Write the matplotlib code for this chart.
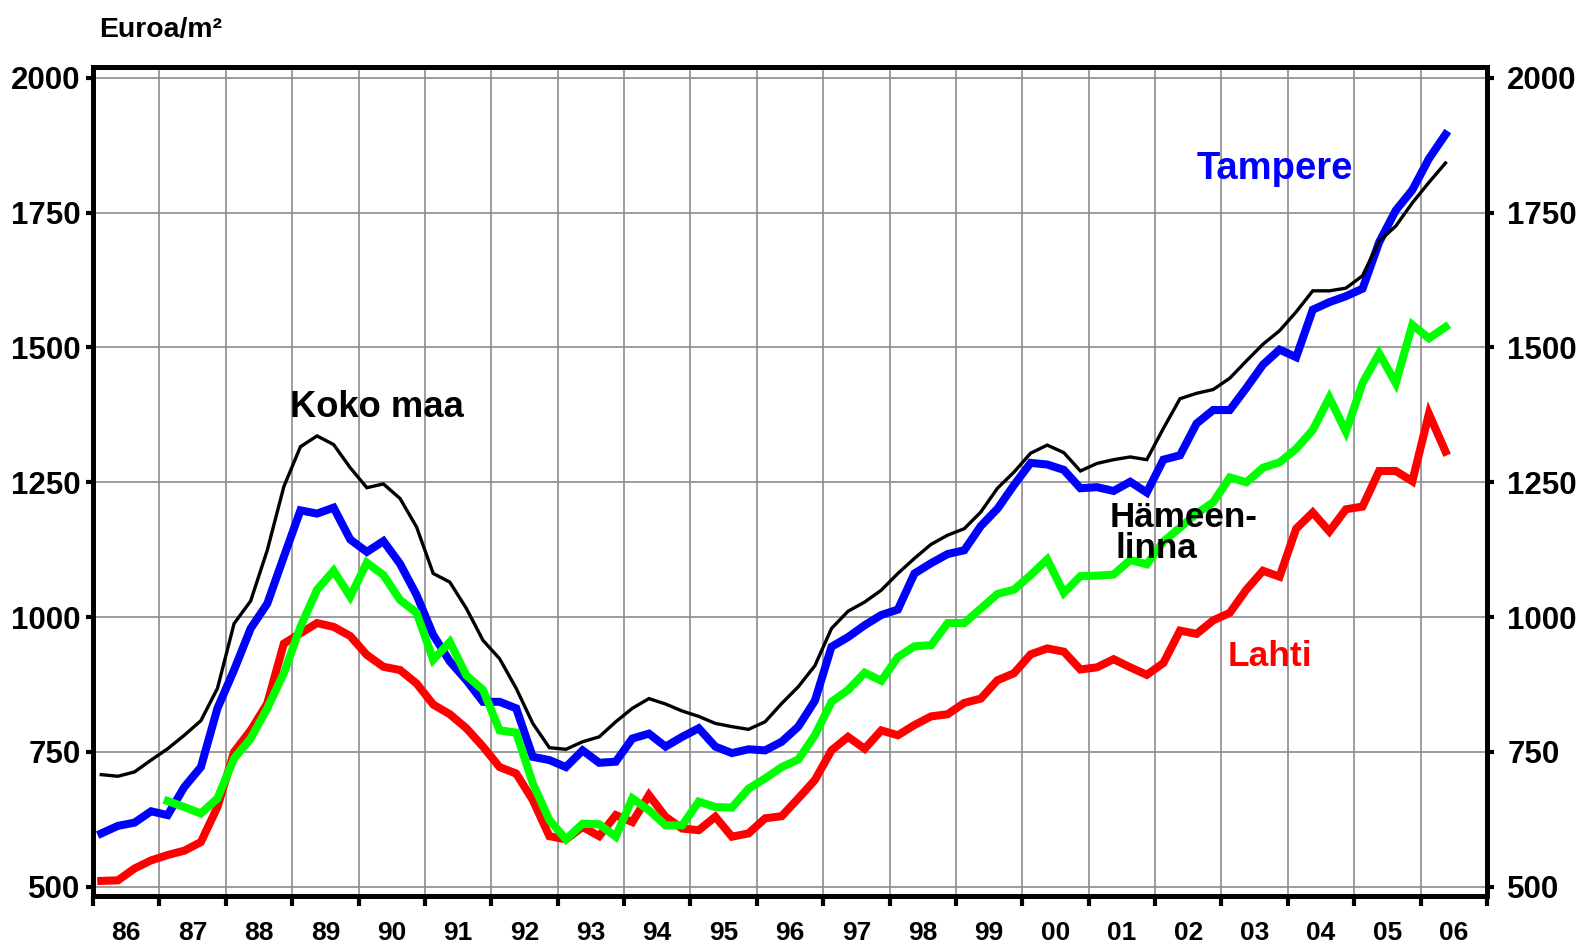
import numpy as np
import matplotlib
matplotlib.use("Agg")
import matplotlib.pyplot as plt
from matplotlib.ticker import FixedLocator, NullFormatter

plt.rcParams['font.family'] = ['Liberation Sans', 'DejaVu Sans']
plt.rcParams['font.weight'] = 'bold'

# Quarterly data 1986Q1 .. 2006Q2 (82 quarters), euro / m2
koko_maa = [708, 705, 713, 735, 756, 781, 808, 868, 988, 1030, 1124, 1242, 1316, 1336, 1320, 1277,
            1240, 1247, 1220, 1167, 1081, 1065, 1016, 957, 923, 868, 803, 758, 755, 769, 778, 806,
            831, 849, 839, 826, 816, 803, 797, 792, 806, 840, 871, 910, 979, 1011, 1028, 1050,
            1081, 1109, 1135, 1152, 1164, 1195, 1239, 1269, 1304, 1319, 1305, 1271, 1285, 1292, 1297, 1292,
            1350, 1405, 1415, 1422, 1443, 1475, 1506, 1531, 1566, 1605, 1605, 1610, 1633, 1697, 1725, 1768,
            1806, 1842]
tampere = [599, 613, 619, 640, 633, 685, 722, 831, 902, 979, 1025, 1112, 1198, 1192, 1203, 1144,
           1121, 1141, 1099, 1041, 967, 918, 883, 843, 843, 831, 741, 735, 722, 753, 730, 732,
           775, 784, 760, 778, 794, 760, 748, 755, 753, 769, 797, 845, 945, 963, 985, 1004,
           1014, 1081, 1100, 1117, 1124, 1169, 1201, 1245, 1286, 1283, 1273, 1239, 1241, 1234, 1251, 1231,
           1292, 1300, 1359, 1384, 1384, 1425, 1468, 1496, 1482, 1570, 1584, 1595, 1609, 1695, 1754, 1792,
           1850, 1895]
hameenlinna = [np.nan, np.nan, np.nan, np.nan, 659, 648, 636, 664, 738, 775, 831, 896, 982, 1051, 1086, 1038,
               1101, 1078, 1032, 1008, 921, 954, 892, 865, 790, 786, 692, 624, 588, 617, 616, 593,
               664, 642, 614, 614, 658, 648, 647, 682, 701, 722, 736, 781, 843, 865, 897, 882,
               926, 946, 948, 989, 989, 1016, 1043, 1051, 1078, 1107, 1045, 1076, 1077, 1079, 1106, 1098,
               1140, 1166, 1192, 1213, 1259, 1250, 1277, 1287, 1312, 1347, 1407, 1344, 1434, 1489, 1434, 1542,
               1517, 1538]
lahti = [511, 512, 534, 549, 559, 567, 583, 648, 750, 790, 840, 951, 970, 989, 982, 965,
         930, 908, 902, 877, 838, 820, 794, 760, 722, 710, 661, 594, 588, 611, 594, 633,
         620, 670, 630, 608, 605, 630, 593, 599, 627, 631, 664, 698, 753, 778, 756, 790,
         781, 800, 816, 820, 841, 849, 883, 896, 931, 942, 936, 903, 907, 922, 907, 893,
         915, 975, 969, 994, 1008, 1051, 1086, 1075, 1164, 1194, 1159, 1200, 1205, 1271, 1271, 1252,
         1377, 1307]
year_labels = ['86', '87', '88', '89', '90', '91', '92', '93', '94', '95', '96',
               '97', '98', '99', '00', '01', '02', '03', '04', '05', '06']
y_ticks = [500, 750, 1000, 1250, 1500, 1750, 2000]

n = len(koko_maa)
x = 1986 + (np.arange(n) + 0.5) / 4.0

W, H = 1579, 946
fig = plt.figure(figsize=(W / 100, H / 100), dpi=100)
ax = fig.add_axes([93 / W, 1 - 896 / H, (1487 - 93) / W, (896 - 67) / H])

ax.set_xlim(1986, 2007)
ax.set_ylim(483, 2020)

ax.plot(x, lahti, color='#ff0000', lw=5.8, solid_joinstyle='miter', zorder=3)
ax.plot(x, tampere, color='#0000ff', lw=5.8, solid_joinstyle='miter', zorder=4)
ax.plot(x, hameenlinna, color='#00ff00', lw=5.8, solid_joinstyle='miter', zorder=5)
ax.plot(x, koko_maa, color='black', lw=2.4, solid_joinstyle='miter', zorder=6)

years = np.arange(1986, 2008)
ax.xaxis.set_major_locator(FixedLocator(years))
ax.xaxis.set_major_formatter(NullFormatter())
ax.xaxis.set_minor_locator(FixedLocator(years[:-1] + 0.5))
ax.set_xticklabels(year_labels, minor=True)
ax.tick_params(axis='x', which='major', direction='out', length=7, width=3, color='black')
ax.tick_params(axis='x', which='minor', length=0, pad=18, labelsize=19)

ax.set_yticks(y_ticks)
ax.tick_params(axis='y', which='major', direction='out', length=5, width=3, pad=4, labelsize=22.5)

ax2 = ax.twinx()
ax2.set_ylim(ax.get_ylim())
ax2.set_yticks(y_ticks)
ax2.tick_params(axis='y', which='major', direction='out', length=5, width=3, pad=9.5, labelsize=22.5)

ax.grid(True, which='major', color='#8c8c8c', lw=1.2, zorder=1)
for a in (ax, ax2):
    for s in a.spines.values():
        s.set_linewidth(3.5)
        s.set_color('black')
ax.set_axisbelow(True)

for lab in ax.get_xticklabels(minor=True) + ax.get_yticklabels() + ax2.get_yticklabels():
    lab.set_fontweight('bold')

ax.text(1990.28, 1371, 'Koko maa', fontsize=26.2, fontweight='bold', color='black',
        ha='center', va='baseline', zorder=7)
ax.text(2003.8, 1813, 'Tampere', fontsize=27.5, fontweight='bold', color='#0000ff',
        ha='center', va='baseline', zorder=7)
ax.text(2001.31, 1167, 'Hämeen-', fontsize=25.2, fontweight='bold', color='black',
        ha='left', va='baseline', zorder=7)
ax.text(2001.40, 1109, 'linna', fontsize=25.2, fontweight='bold', color='black',
        ha='left', va='baseline', zorder=7)
ax.text(2003.73, 910, 'Lahti', fontsize=25.5, fontweight='bold', color='#ff0000',
        ha='center', va='baseline', zorder=7)

fig.text(99 / W, 1 - 36.7 / H, 'Euroa/m²', fontsize=20.4, fontweight='bold',
         ha='left', va='baseline')

fig.savefig('out.png', dpi=100, facecolor='white')
